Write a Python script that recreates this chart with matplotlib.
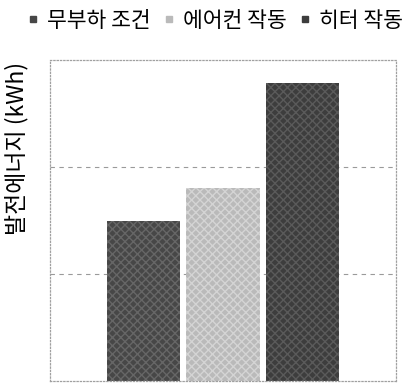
import matplotlib.pyplot as plt
from matplotlib.lines import Line2D

plt.rcParams['font.family'] = ['Noto Sans CJK KR', 'DejaVu Sans']

# 조건별 발전에너지 (단위: 격자 한 칸)
conditions = ['무부하 조건', '에어컨 작동', '히터 작동']
energy = [1.50, 1.80, 2.79]
colors = ['#474747', '#bababa', '#3d3d3d']
hatch_colors = ['#666666', '#d4d4d4', '#5a5a5a']

fig = plt.figure(figsize=(4.09, 3.85), dpi=100)
ax = fig.add_axes([0.122, 0.010, 0.846, 0.834])

for i, (val, c, hc) in enumerate(zip(energy, colors, hatch_colors)):
    ax.bar(i, val, width=0.92, color=c, edgecolor=hc, hatch='xxxx', linewidth=0)

ax.set_xlim(-1.17, 3.17)
ax.set_ylim(0, 3)
ax.set_xticks([])
ax.set_yticks([])

# 점선 격자
for y in [1, 2]:
    ax.axhline(y, color='#9a9a9a', linestyle=(0, (4, 4)), linewidth=0.8, zorder=0)

for s in ax.spines.values():
    s.set_color('#a0a0a0')
    s.set_linestyle(':')
    s.set_linewidth(0.9)

ax.set_ylabel('발전에너지 (kWh)', fontsize=16.5)
ax.yaxis.set_label_coords(-0.062, 0.725)

handles = [Line2D([], [], marker='s', linestyle='', markersize=5,
                  markerfacecolor=c, markeredgecolor=c) for c in colors]
fig.legend(handles, conditions, loc='upper center', bbox_to_anchor=(0.525, 1.025),
           ncol=3, frameon=False, fontsize=15.5, handlelength=0.6,
           handletextpad=0.35, columnspacing=0.55)

fig.savefig('out.png', dpi=100)
